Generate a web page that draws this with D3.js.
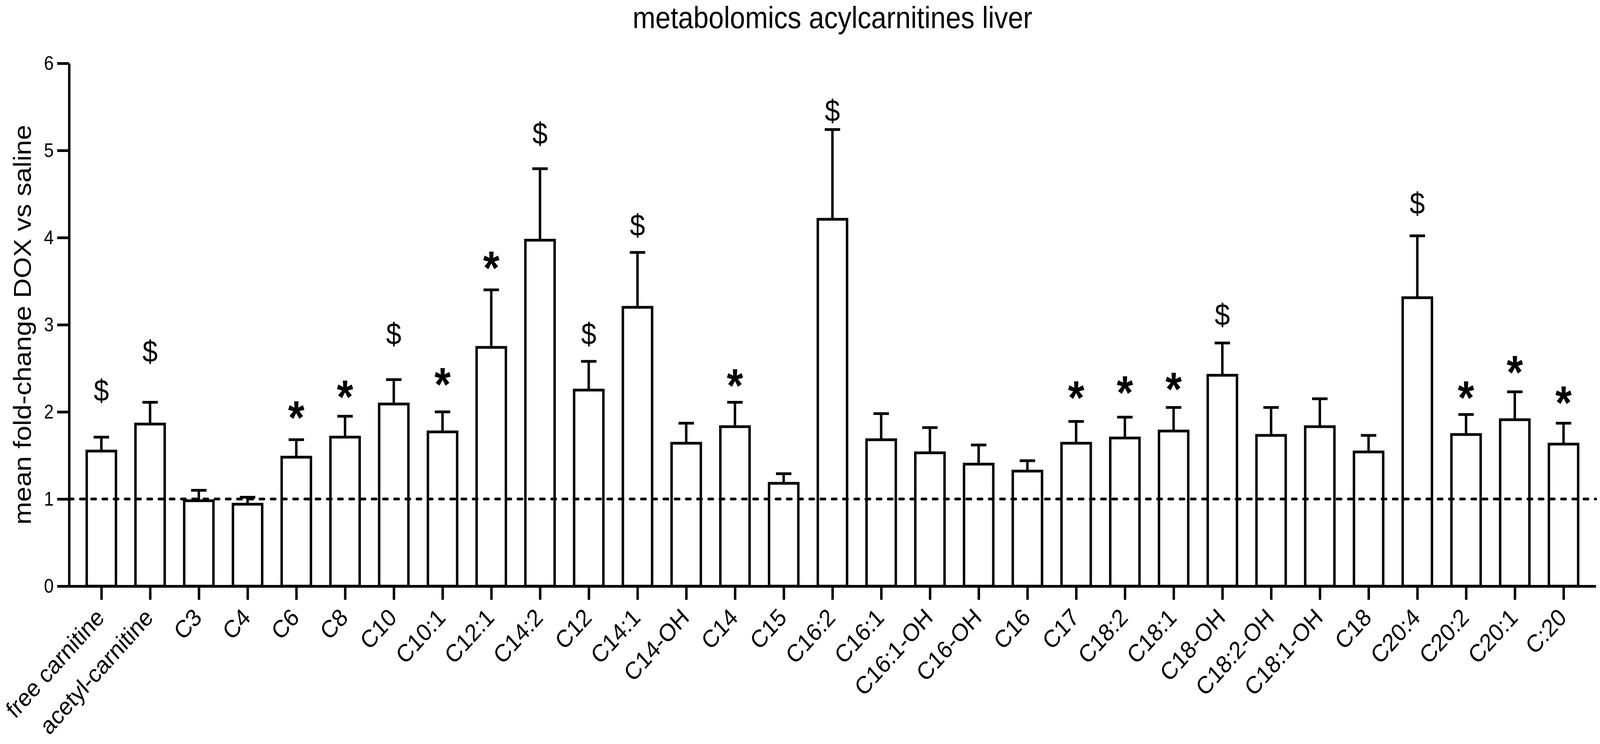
<!DOCTYPE html>
<html>
<head>
<meta charset="utf-8">
<script src="https://cdn.jsdelivr.net/npm/d3@7"></script>
<style>
  html, body { margin: 0; padding: 0; background: #fff; overflow: hidden; }
  text { font-family: "Liberation Sans", Arial, Helvetica, sans-serif; fill: #000; }
</style>
</head>
<body>
<script>
const categories = ["free carnitine", "acetyl-carnitine", "C3", "C4", "C6", "C8", "C10", "C10:1",
  "C12:1", "C14:2", "C12", "C14:1", "C14-OH", "C14", "C15", "C16:2", "C16:1", "C16:1-OH",
  "C16-OH", "C16", "C17", "C18:2", "C18:1", "C18-OH", "C18:2-OH", "C18:1-OH", "C18",
  "C20:4", "C20:2", "C20:1", "C:20"]

// mean fold-change
const means = [1.55, 1.86, 0.98, 0.94, 1.48, 1.71, 2.09, 1.77,
  2.74, 3.97, 2.25, 3.20, 1.64, 1.83, 1.18, 4.21, 1.68, 1.53,
  1.40, 1.32, 1.64, 1.70, 1.78, 2.42, 1.73, 1.83, 1.54,
  3.31, 1.74, 1.91, 1.63]

// mean + error (upper whisker end)
const errTops = [1.71, 2.11, 1.10, 1.02, 1.68, 1.95, 2.37, 2.00,
  3.40, 4.79, 2.58, 3.83, 1.87, 2.11, 1.29, 5.24, 1.98, 1.82,
  1.62, 1.44, 1.89, 1.94, 2.05, 2.79, 2.05, 2.15, 1.73,
  4.02, 1.97, 2.23, 1.87]

// significance marks and the level (in y units) where each one sits
const marks = ["$", "$", "", "", "*", "*", "$", "*",
  "*", "$", "$", "$", "", "*", "", "$", "", "",
  "", "", "*", "*", "*", "$", "", "", "",
  "$", "*", "*", "*"]
const markLevels = [2.24, 2.69, null, null, 2.06, 2.30, 2.89, 2.44,
  3.78, 5.19, 2.89, 4.14, null, 2.43, null, 5.45, null, null,
  null, null, 2.29, 2.35, 2.39, 3.11, null, null, null,
  4.39, 2.29, 2.58, 2.23]

const yTicks = [0, 1, 2, 3, 4, 5, 6]
const baseline = 1
const title = "metabolomics acylcarnitines liver"
const yTitle = "mean fold-change DOX vs saline"

const width = 4563, height = 1904
const lw = 7

// drawn in a fixed 4563x1904 frame, stretched to whatever the window is
const svg = d3.select('body').append('svg')
    .attr('viewBox', `0 0 ${width} ${height}`)
    .attr('preserveAspectRatio', 'none')
    .style('width', '100vw')
    .style('height', '100vh')
    .style('display', 'block')

svg.append('rect')
    .attr('width', width)
    .attr('height', height)
    .attr('fill', '#fff')

const x = d3.scalePoint()
    .domain(categories)
    .range([197, 4551])
    .padding(0.662)

const y = d3.scaleLinear()
    .domain([0, 6])
    .range([1500, 162])

const barW = x.step() * 0.6
const capW = 44

const data = categories.map((c, i) => ({
    name: c, mean: means[i], top: errTops[i], mark: marks[i], level: markLevels[i]
}))

// error bars (upper only)
const err = svg.append('g')
    .attr('stroke', '#000')
    .attr('stroke-width', lw)

err.selectAll('.whisker')
    .data(data).enter()
    .append('line')
    .attr('class', 'whisker')
    .attr('x1', d => x(d.name))
    .attr('x2', d => x(d.name))
    .attr('y1', d => y(d.mean))
    .attr('y2', d => y(d.top))

err.selectAll('.cap')
    .data(data).enter()
    .append('line')
    .attr('class', 'cap')
    .attr('x1', d => x(d.name) - capW / 2)
    .attr('x2', d => x(d.name) + capW / 2)
    .attr('y1', d => y(d.top))
    .attr('y2', d => y(d.top))

// bars
svg.append('g')
    .selectAll('.bar')
    .data(data).enter()
    .append('rect')
    .attr('class', 'bar')
    .attr('x', d => x(d.name) - barW / 2)
    .attr('y', d => y(d.mean))
    .attr('width', barW)
    .attr('height', d => y(0) - y(d.mean))
    .attr('fill', '#fff')
    .attr('stroke', '#000')
    .attr('stroke-width', lw)

// dashed reference line at 1
svg.append('line')
    .attr('x1', 197)
    .attr('x2', 4551)
    .attr('y1', y(baseline))
    .attr('y2', y(baseline))
    .attr('stroke', '#000')
    .attr('stroke-width', lw)
    .attr('stroke-linecap', 'round')
    .attr('stroke-dasharray', '12,20')

// axes
const yAxis = d3.axisLeft(y)
    .tickValues(yTicks)
    .tickFormat(d3.format('d'))
    .tickSize(34)
    .tickSizeOuter(0)
    .tickPadding(10)

const gy = svg.append('g')
    .attr('transform', `translate(${x.range()[0]},0)`)
    .call(yAxis)
gy.selectAll('path, line').attr('stroke', '#000').attr('stroke-width', lw)
gy.selectAll('text')
    .attr('font-size', 50)
    .attr('font-family', '"Liberation Sans", Arial, sans-serif')

const xAxis = d3.axisBottom(x)
    .tickSize(35)
    .tickSizeOuter(0)
    .tickFormat('')

const gx = svg.append('g')
    .attr('transform', `translate(0,${y(0)})`)
    .call(xAxis)
gx.selectAll('path, line').attr('stroke', '#000').attr('stroke-width', lw)

// category labels, rotated
svg.append('g')
    .selectAll('.cat')
    .data(categories).enter()
    .append('text')
    .attr('class', 'cat')
    .attr('transform', d => `translate(${x(d) + 12},${y(0) + 84}) rotate(-45)`)
    .attr('text-anchor', 'end')
    .attr('font-size', 63)
    .text(d => d)

// significance marks
svg.append('g')
    .selectAll('.mark')
    .data(data.filter(d => d.mark)).enter()
    .append('text')
    .attr('class', 'mark')
    .attr('x', d => x(d.name))
    .attr('y', d => y(d.level))
    .attr('text-anchor', 'middle')
    .attr('font-size', d => d.mark === '*' ? 120 : 78)
    .attr('font-weight', d => d.mark === '*' ? 'bold' : 'normal')
    .attr('dy', d => d.mark === '*' ? '0.58em' : '0.33em')
    .text(d => d.mark)

// titles
svg.append('text')
    .attr('x', (x.range()[0] + x.range()[1]) / 2)
    .attr('y', 72)
    .attr('text-anchor', 'middle')
    .attr('font-size', 78)
    .text(title)

svg.append('text')
    .attr('transform', `translate(88,${(y(0) + y(6)) / 2}) rotate(-90)`)
    .attr('text-anchor', 'middle')
    .attr('font-size', 70)
    .text(yTitle)
</script>
</body>
</html>
